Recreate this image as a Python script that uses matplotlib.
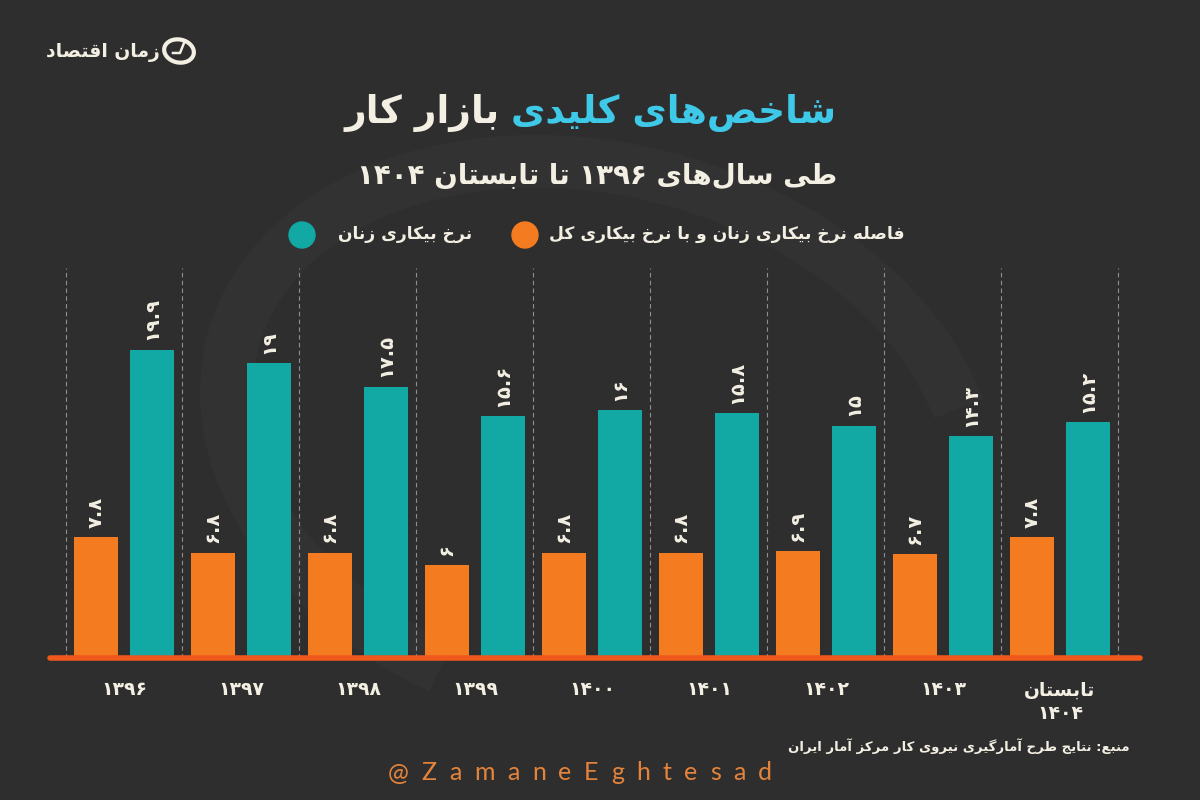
import re
import matplotlib
matplotlib.use("Agg")
import matplotlib.pyplot as plt
import numpy as np
from matplotlib.patches import Circle, Ellipse, Arc

# ---- data ----
years = ["۱۳۹۶", "۱۳۹۷", "۱۳۹۸", "۱۳۹۹", "۱۴۰۰", "۱۴۰۱", "۱۴۰۲", "۱۴۰۳", "تابستان\n۱۴۰۴"]
women_rate = [19.9, 19, 17.5, 15.6, 16, 15.8, 15, 14.3, 15.2]
gap_rate = [7.8, 6.8, 6.8, 6, 6.8, 6.8, 6.9, 6.7, 7.8]

LOGO = "زمان اقتصاد"
TITLE_A = "شاخص\u200cهای کلیدی"
TITLE_B = "بازار کار"
SUBTITLE = "طی سال\u200cهای ۱۳۹۶ تا تابستان ۱۴۰۴"
LEG_GAP = "فاصله نرخ بیکاری زنان و با نرخ بیکاری کل"
LEG_WOMEN = "نرخ بیکاری زنان"
SOURCE = "منبع: نتایج طرح آمارگیری نیروی کار مرکز آمار ایران"
HANDLE = "@ZamaneEghtesad"

BG = "#2e2e2e"
CREAM = "#f4efe3"
TEAL = "#12a8a4"
ORANGE = "#f47b20"
CYAN = "#3fc9e8"
LINE = "#f0581c"


# ---- minimal persian shaping (matplotlib has no arabic shaping) ----
def _dual(start):
    return (start, start + 1, start + 2, start + 3)


FORMS = {
    "\u0622": (0xFE81, 0xFE82),
    "\u0627": (0xFE8D, 0xFE8E),
    "\u0628": _dual(0xFE8F),
    "\u067E": _dual(0xFB56),
    "\u062A": _dual(0xFE95),
    "\u062B": _dual(0xFE99),
    "\u062C": _dual(0xFE9D),
    "\u0686": _dual(0xFB7A),
    "\u062D": _dual(0xFEA1),
    "\u062E": _dual(0xFEA5),
    "\u062F": (0xFEA9, 0xFEAA),
    "\u0630": (0xFEAB, 0xFEAC),
    "\u0631": (0xFEAD, 0xFEAE),
    "\u0632": (0xFEAF, 0xFEB0),
    "\u0698": (0xFB8A, 0xFB8B),
    "\u0633": _dual(0xFEB1),
    "\u0634": _dual(0xFEB5),
    "\u0635": _dual(0xFEB9),
    "\u0636": _dual(0xFEBD),
    "\u0637": _dual(0xFEC1),
    "\u0638": _dual(0xFEC5),
    "\u0639": _dual(0xFEC9),
    "\u063A": _dual(0xFECD),
    "\u0641": _dual(0xFED1),
    "\u0642": _dual(0xFED5),
    "\u06A9": _dual(0xFB8E),
    "\u06AF": _dual(0xFB92),
    "\u0644": _dual(0xFEDD),
    "\u0645": _dual(0xFEE1),
    "\u0646": _dual(0xFEE5),
    "\u0648": (0xFEED, 0xFEEE),
    "\u0647": _dual(0xFEE9),
    "\u06CC": _dual(0xFBFC),
}


def shape_line(text):
    text = text.replace("\u064A", "\u06CC").replace("\u0643", "\u06A9")
    out = []
    i, n = 0, len(text)
    while i < n:
        c = text[i]
        if c not in FORMS:
            if c != "\u200c":
                out.append(c)
            i += 1
            continue
        prev = text[i - 1] if i > 0 else ""
        join_prev = prev in FORMS and len(FORMS[prev]) == 4
        if c == "\u0644" and i + 1 < n and text[i + 1] in ("\u0627", "\u0622"):
            lig = (0xFEFB, 0xFEFC) if text[i + 1] == "\u0627" else (0xFEF5, 0xFEF6)
            out.append(chr(lig[1] if join_prev else lig[0]))
            i += 2
            continue
        nxt = text[i + 1] if i + 1 < n else ""
        f = FORMS[c]
        join_next = len(f) == 4 and nxt in FORMS
        if join_prev and join_next:
            g = f[3]
        elif join_prev:
            g = f[1]
        elif join_next:
            g = f[2]
        else:
            g = f[0]
        out.append(chr(g))
        i += 1
    s = "".join(out)[::-1]
    return re.sub(r"[0-9\u06F0-\u06F9.]+", lambda m: m.group(0)[::-1], s)


def fa(text):
    return "\n".join(shape_line(t) for t in text.split("\n"))


def fa_num(v):
    return f"{v:g}".translate(str.maketrans("0123456789", "۰۱۲۳۴۵۶۷۸۹"))


FONT = ["DejaVu Sans"]
W, H = 1200, 800

fig = plt.figure(figsize=(12, 8), dpi=100, facecolor=BG)

# faint watermark swoosh
fig.add_artist(Arc((6.0, 3.6), 7.6, 5.4, angle=-15, theta1=20, theta2=250,
                   transform=fig.dpi_scale_trans, color="#323232", lw=38, zorder=0))

ax = fig.add_axes([50 / W, 1 - 658 / H, 1090 / W, 390 / H])
ax.set_facecolor("none")
x = np.arange(len(years))
off = 28 / 117
bw = 44 / 117

ax.bar(x - off, gap_rate, bw, color=ORANGE, zorder=3)
ax.bar(x + off, women_rate, bw, color=TEAL, zorder=3)

for xi, v in zip(x, gap_rate):
    ax.text(xi - off, v + 0.6, fa_num(v), rotation=90, ha="center", va="bottom",
            fontsize=14, fontweight="bold", color=CREAM, family=FONT)
for xi, v in zip(x, women_rate):
    ax.text(xi + off, v + 0.6, fa_num(v), rotation=90, ha="center", va="bottom",
            fontsize=14, fontweight="bold", color=CREAM, family=FONT)

ax.set_xlim(-0.6325, 8.684)
ax.set_ylim(0, 390 / 15.5)
ax.vlines(np.arange(len(years) + 1) - 0.5, 0, 390 / 15.5, colors="#8f8f8f",
          linestyles=(0, (4, 3)), lw=0.8, zorder=1)
ax.plot(ax.get_xlim(), [0, 0], color=LINE, lw=4, solid_capstyle="round",
        clip_on=False, zorder=4)

for s in ax.spines.values():
    s.set_visible(False)
ax.set_yticks([])
ax.set_xticks(x, [fa(y) for y in years])
ax.tick_params(axis="x", length=0, pad=16)
for lab in ax.get_xticklabels():
    lab.set_fontfamily(FONT)
    lab.set_fontweight("bold")
    lab.set_fontsize(13.5)
    lab.set_color(CREAM)
    lab.set_linespacing(1.3)

r = fig.canvas.get_renderer()

# title in two colours
ta = fig.text(0, 1 - 113 / H, fa(TITLE_A), color=CYAN, fontsize=27, fontweight="bold",
              family=FONT, ha="right", va="center")
tb = fig.text(0, 1 - 113 / H, fa(TITLE_B), color=CREAM, fontsize=27, fontweight="bold",
              family=FONT, ha="right", va="center")
wa = ta.get_window_extent(r).width
wb = tb.get_window_extent(r).width
sp = 11
xr = 590 + (wa + sp + wb) / 2
ta.set_x(xr / W)
tb.set_x((xr - wa - sp) / W)

fig.text(597 / W, 1 - 176 / H, fa(SUBTITLE), color=CREAM, fontsize=20, fontweight="bold",
         family=FONT, ha="center", va="center")

# legend
fig.text(905 / W, 1 - 234 / H, fa(LEG_GAP), color=CREAM, fontsize=12.3, fontweight="bold",
         family=FONT, ha="right", va="center")
fig.add_artist(Circle((5.25, 8 - 2.35), 0.13, transform=fig.dpi_scale_trans, color=ORANGE))
fig.text(472 / W, 1 - 234 / H, fa(LEG_WOMEN), color=CREAM, fontsize=12.3, fontweight="bold",
         family=FONT, ha="right", va="center")
fig.add_artist(Circle((3.02, 8 - 2.35), 0.13, transform=fig.dpi_scale_trans, color=TEAL))

# logo
fig.text(160 / W, 1 - 52 / H, fa(LOGO), color=CREAM, fontsize=13.5, fontweight="bold",
         family=FONT, ha="right", va="center")
fig.add_artist(Ellipse((1.79, 8 - 0.51), 0.30, 0.23, angle=-12, transform=fig.dpi_scale_trans,
                       fill=False, ec=CREAM, lw=3))
fig.add_artist(plt.Line2D([1.73, 1.80, 1.84], [8 - 0.53, 8 - 0.53, 8 - 0.43],
                          transform=fig.dpi_scale_trans, color=CREAM, lw=1.8))

# source
fig.text(1130 / W, 1 - 746 / H, fa(SOURCE), color=CREAM, fontsize=9.5, fontweight="bold",
         family=FONT, ha="right", va="center")

# handle with letter spacing
hts = [fig.text(0, 1 - 773 / H, ch, color="#e4833a", fontsize=18, family=["Lato"],
                ha="left", va="center") for ch in HANDLE]
hw = [t.get_window_extent(r).width for t in hts]
track = 12.5
cur = 580 - (sum(hw) + track * (len(hw) - 1)) / 2
for t, w_ in zip(hts, hw):
    t.set_x(cur / W)
    cur += w_ + track

fig.savefig("out.png", dpi=100, facecolor=BG)
